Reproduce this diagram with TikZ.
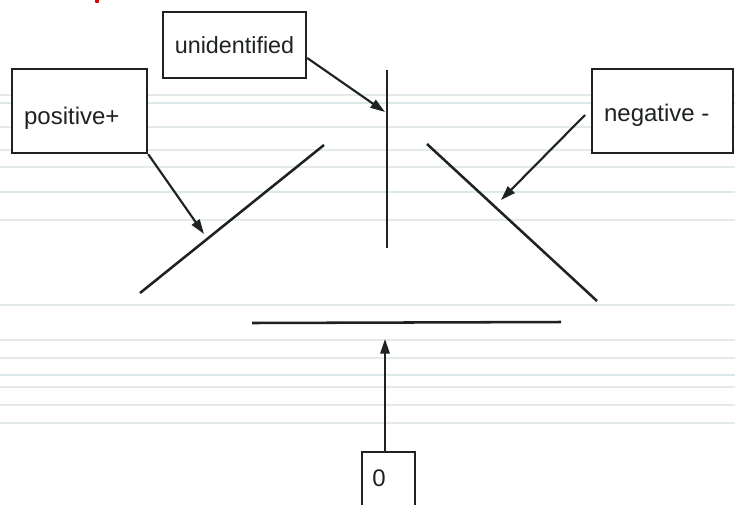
\documentclass[tikz,border=0pt]{standalone}
\usepackage{fontspec}
\setmainfont{Liberation Sans}
\usetikzlibrary{arrows.meta,calc}
\definecolor{ink}{HTML}{1E2222}
\definecolor{rule}{HTML}{E4EAEC}
\definecolor{ruleblue}{HTML}{DCE9EB}
\tikzset{
  px/.style={x=0.75pt,y=-0.75pt},
  label box/.style={draw=ink,line width=1.8pt,fill=white,inner sep=0pt},
  label text/.style={text=ink,font=\fontsize{18}{20}\selectfont,inner sep=0pt},
  stroke/.style={draw=ink,line width=1.9pt},
  pointer/.style={draw=ink,line width=1.6pt,
    -{Triangle[length=11pt,width=7pt]}},
  paper rule/.style={draw=rule,line width=1pt}
}
\begin{document}
\begin{tikzpicture}[px]
  \useasboundingbox (0,0) rectangle (735,504);
  \clip (0,0) rectangle (735,504);
  \fill[white] (0,0) rectangle (735,504);

  % ruled notebook paper
  \foreach \y in {95,103,127,150,167,192,220,305,340,358,375,387,405,423}
    \draw[paper rule] (0,\y) -- (735,\y);
  \foreach \y in {103,192,375}
    \draw[draw=ruleblue,line width=1pt] (0,\y) -- (735,\y);

  % red ink mark at the top edge
  \fill[red!85!black] (97,1) circle (2.2);

  % the four strokes
  \coordinate (vtop) at (387,70);
  \coordinate (vbot) at (387,248);
  \coordinate (ltop) at (324,145);
  \coordinate (lbot) at (140,293);
  \coordinate (rtop) at (427,144);
  \coordinate (rbot) at (597,301);
  \coordinate (hl) at (252,323);
  \coordinate (hr) at (561,322);
  \draw[stroke] (vtop) -- (vbot);
  \draw[stroke] (lbot) -- (ltop);
  \draw[stroke] (rtop) -- (rbot);
  \draw[stroke] (hl) -- (hr);

  % label boxes
  \node[label box,minimum width=107.25pt,minimum height=49.5pt] (unid) at (234.5,45) {};
  \node[label box,minimum width=101.25pt,minimum height=63pt] (pos) at (79.5,111) {};
  \node[label box,minimum width=105.75pt,minimum height=63pt] (neg) at (662.5,111) {};
  \node[label box,minimum width=39.75pt,minimum height=52.5pt,anchor=north west] (zero) at (361,451) {};

  % label texts
  \node[label text,font=\fontsize{17.5}{20}\selectfont] (unidt) at (unid.center) {unidentified};
  \node[label text,anchor=west] (post) at ($(pos.west)+(13,7)$) {positive+};
  \node[label text,anchor=west] (negt) at ($(neg.west)+(13,4)$) {negative -};
  \node[label text] (zerot) at (379,478) {0};

  % pointers from the labels to the strokes
  \coordinate (tipu) at (385,112);
  \coordinate (tipp) at (204,234);
  \coordinate (tipn) at (501,200);
  \coordinate (tipz) at (385,339);
  \coordinate (negfoot) at (585,115);
  \draw[pointer] ($(unid.east)+(0,13)$) -- (tipu);
  \draw[pointer] (pos.south east) -- (tipp);
  \draw[pointer] (negfoot) -- (tipn);
  \draw[pointer] (zero.north -| tipz) -- (tipz);
\end{tikzpicture}
\end{document}
